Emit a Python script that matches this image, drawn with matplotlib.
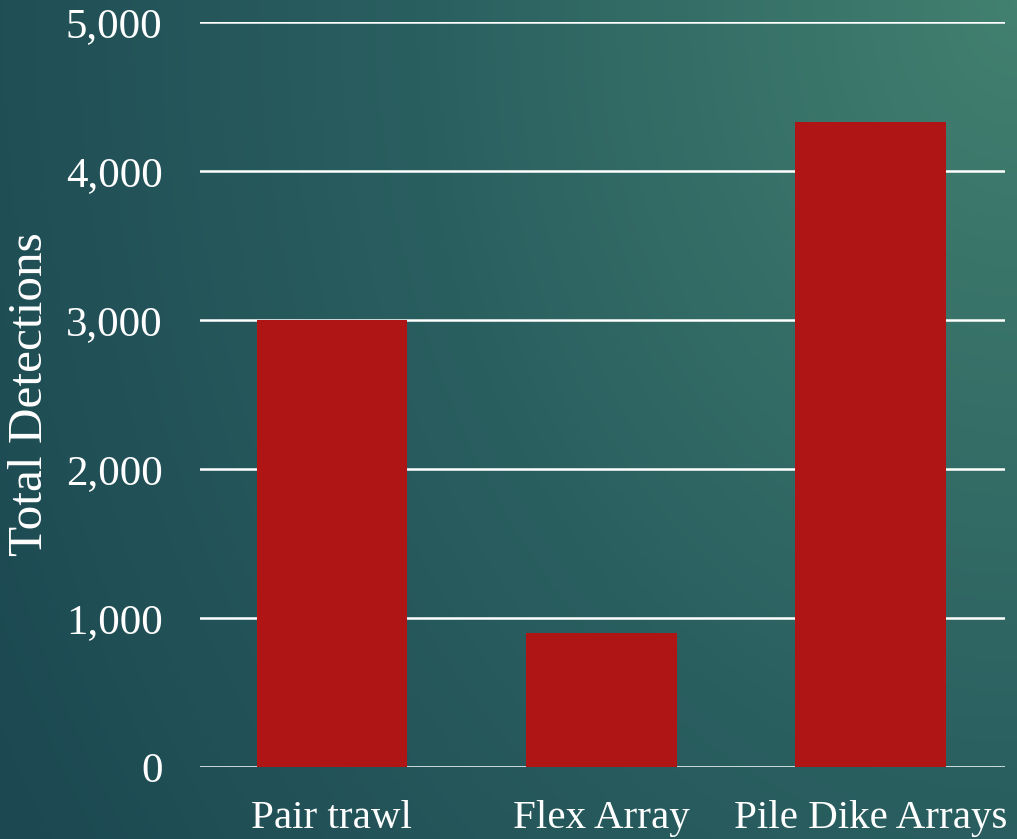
import numpy as np
import matplotlib.pyplot as plt
from matplotlib.colors import LinearSegmentedColormap
from matplotlib.ticker import FuncFormatter

categories = ["Pair trawl", "Flex Array", "Pile Dike Arrays"]
detections = [3000, 900, 4330]
y_ticks = [0, 1000, 2000, 3000, 4000, 5000]

plt.rcParams["font.family"] = ["Liberation Serif", "DejaVu Serif"]

fig = plt.figure(figsize=(10.17, 8.39), dpi=100)

# teal gradient background, lightest towards the upper right corner
bg = fig.add_axes([0, 0, 1, 1], zorder=-10)
xx, yy = np.meshgrid(np.linspace(0, 1, 300), np.linspace(0, 1, 300))
dist = np.sqrt((1 - xx) ** 2 + (yy / 1.6) ** 2)
t = np.clip(1 - dist / 1.2, 0, 1)
cmap = LinearSegmentedColormap.from_list("teal", ["#1c4851", "#2a5f60", "#42806f"])
bg.imshow(t, cmap=cmap, aspect="auto", extent=[0, 1, 0, 1], origin="upper")
bg.axis("off")

ax = fig.add_axes([0.1967, 0.0858, 0.7915, 0.888])
ax.patch.set_alpha(0)
x = np.arange(len(categories))
ax.bar(x, detections, width=0.56, color="#b01515", zorder=3)

ax.set_xlim(-0.49, 2.5)
ax.set_ylim(0, 5000)
ax.set_yticks(y_ticks)
ax.yaxis.set_major_formatter(FuncFormatter(lambda v, p: f"{int(v):,}"))
ax.set_xticks(x)
ax.set_xticklabels(categories)
ax.grid(axis="y", color="white", linewidth=1.8, zorder=1)
ax.set_axisbelow(True)
for s in ax.spines.values():
    s.set_visible(False)
ax.tick_params(axis="y", length=0, pad=27, labelsize=31, colors="white")
ax.tick_params(axis="x", length=0, pad=24, labelsize=29.5, colors="white")
ax.set_ylabel("Total Detections", fontsize=35.5, color="white", labelpad=10)

fig.savefig("out.png", dpi=100)
